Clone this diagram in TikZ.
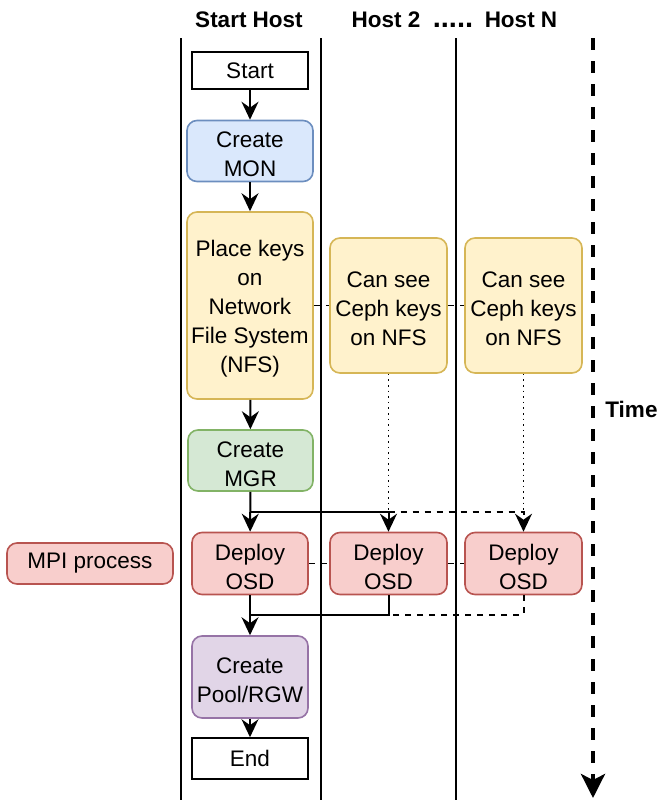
\documentclass[tikz,border=0pt]{standalone}
\usepackage{fontspec}
\setmainfont{Liberation Sans}
\usepackage{tikz}
\usetikzlibrary{positioning, arrows.meta, calc}

\definecolor{monfill}{HTML}{DAE8FC}
\definecolor{monline}{HTML}{6C8EBF}
\definecolor{keyfill}{HTML}{FFF2CC}
\definecolor{keyline}{HTML}{D6B656}
\definecolor{mgrfill}{HTML}{D5E8D4}
\definecolor{mgrline}{HTML}{82B366}
\definecolor{osdfill}{HTML}{F8CECC}
\definecolor{osdline}{HTML}{B85450}
\definecolor{poolfill}{HTML}{E1D5E7}
\definecolor{poolline}{HTML}{9673A6}

\tikzset{
    box/.style={draw, line width=0.8pt, align=center, inner sep=0pt,
        font=\fontsize{11.25}{14.5}\selectfont},
    stepbox/.style={box, rounded corners=5pt},
    header/.style={anchor=base, inner sep=0pt, font=\bfseries\fontsize{11.25}{14.5}\selectfont},
    flow/.style={line width=1pt, -{Stealth[length=9pt, width=8.5pt, inset=3pt]}},
    link/.style={line width=1pt},
    weak/.style={line width=0.6pt, dash pattern=on 3pt off 3pt},
    lane/.style={line width=0.9pt},
}

% push multi-line text a little lower in its box
\newcommand{\lift}{\rule{0pt}{11.6pt}}

\def\lanetop{38}
\def\lanebot{800}

\begin{document}
\begin{tikzpicture}[x=0.5pt, y=-0.5pt]
    \useasboundingbox (0,0) rectangle (657,800);

    % draw lane lines
    \foreach \x in {181, 321, 456}
    {
        \draw[lane] (\x, \lanetop) -- (\x, \lanebot);
    }

    % headers
    \node[header] (hstart) at (249,27) {Start Host};
    \node[header] (hsecond) at (386,27) {Host 2};
    \node[header, font=\bfseries\fontsize{14.5}{16}\selectfont] (hdots) at (453,27) {.....};
    \node[header] (hlast) at (521,27) {Host N};

    % time axis
    \coordinate (ttop) at (593,38);
    \coordinate (tbot) at (593,798);
    \draw[line width=2pt, dash pattern=on 6pt off 5.5pt,
        -{Stealth[length=12pt, width=12pt, inset=3pt]}] (ttop) -- (tbot);
    \node[header, anchor=base west] (time) at (605,417) {Time};

    % start host
    \node[box, minimum width=58pt, minimum height=18.5pt] (start) at (250,70.5) {Start};
    \node[stepbox, fill=monfill, draw=monline, minimum width=63pt, minimum height=30.5pt]
        (mon) at (250,151) {\lift Create\\MON};
    \node[stepbox, fill=keyfill, draw=keyline, minimum width=63pt, minimum height=93.5pt]
        (keys) at (250,305.5) {\lift Place keys\\on\\Network\\File System\\(NFS)};
    \node[stepbox, fill=mgrfill, draw=mgrline, minimum width=62.5pt, minimum height=30.5pt]
        (mgr) at (250.5,460.5) {\lift Create\\MGR};
    \node[stepbox, fill=osdfill, draw=osdline, minimum width=58pt, minimum height=31pt]
        (osd1) at (250,563.5) {\lift Deploy\\OSD};
    \node[stepbox, fill=poolfill, draw=poolline, minimum width=58pt, minimum height=41pt]
        (pool) at (250,677) {\lift Create\\Pool/RGW};
    \node[box, minimum width=58pt, minimum height=20.5pt] (fin) at (250,758.5) {End};

    % other hosts
    \node[stepbox, fill=keyfill, draw=keyline, minimum width=58.5pt, minimum height=67.5pt]
        (see2) at (388.5,305.5) {\lift Can see\\Ceph keys\\on NFS};
    \node[stepbox, fill=keyfill, draw=keyline, minimum width=58.5pt, minimum height=67.5pt]
        (seen) at (523.5,305.5) {\lift Can see\\Ceph keys\\on NFS};
    \node[stepbox, fill=osdfill, draw=osdline, minimum width=58.5pt, minimum height=31pt]
        (osd2) at (388.5,563.5) {\lift Deploy\\OSD};
    \node[stepbox, fill=osdfill, draw=osdline, minimum width=58.5pt, minimum height=31pt]
        (osdn) at (523.5,563.5) {\lift Deploy\\OSD};

    % legend
    \node[stepbox, fill=osdfill, draw=osdline, minimum width=83pt, minimum height=20.5pt]
        (mpi) at (90,563.5) {MPI process};

    % junctions
    \coordinate (split1) at (250,512);
    \coordinate (split2) at (388.5,512);
    \coordinate (join1) at (250,615);
    \coordinate (join2) at (388.5,615);

    % main flow
    \draw[flow] (start) -- (mon);
    \draw[flow] (mon) -- (keys);
    \draw[flow] (keys) -- (mgr);
    \draw[flow] (mgr) -- (osd1);
    \draw[flow] (split1) -| (osd2.north);
    \draw[flow, dash pattern=on 3pt off 3pt] (split2) -| (osdn.north);
    \draw[flow] (osd1) -- (pool);
    \draw[link] (osd2.south) |- (join1);
    \draw[link, dash pattern=on 3pt off 3pt] (osdn.south) |- (join2);
    \draw[flow] (pool) -- (fin);

    % key sharing
    \draw[weak] (keys) -- (see2);
    \draw[weak] (see2) -- (seen);
    \draw[weak] (osd1) -- (osd2);
    \draw[weak] (osd2) -- (osdn);
    \draw[line width=0.8pt, dotted] (see2.south) -- (see2.south |- split1);
    \draw[line width=0.8pt, dotted] (seen.south) -- (seen.south |- split1);
\end{tikzpicture}
\end{document}
